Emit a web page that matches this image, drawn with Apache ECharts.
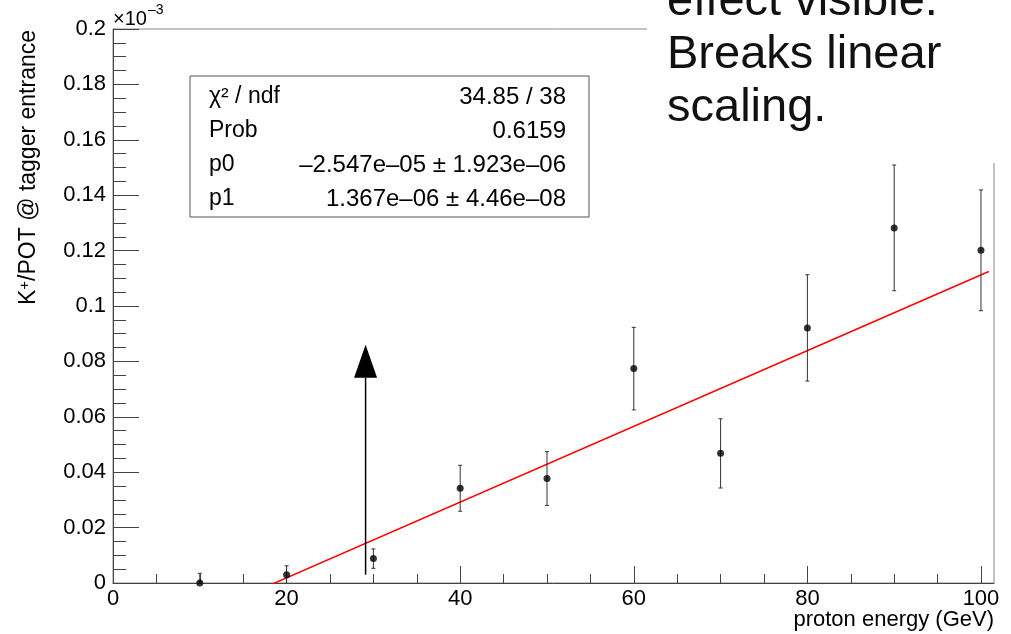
<!DOCTYPE html>
<html>
<head>
<meta charset="utf-8">
<script src="https://cdn.jsdelivr.net/npm/echarts@6/dist/echarts.min.js"></script>
<style>
  html, body { margin: 0; padding: 0; background: #fff; }
  #chart { width: 1011px; height: 634px; }
</style>
</head>
<body>
<div id="chart"></div>
<script>
// Proton beam energies (GeV)
const energies = [10, 20, 30, 40, 50, 60, 70, 80, 90, 100];
// K+/POT at the tagger entrance, in units of 1e-3
const kaonYield = [0.0, 0.0030, 0.0088, 0.0342, 0.0377, 0.0774, 0.0468, 0.0921, 0.1282, 0.1201];
const kaonYieldErr = [0.0035, 0.0032, 0.0035, 0.0083, 0.0097, 0.0149, 0.0125, 0.0192, 0.0227, 0.0218];

// pol1 fit result (absolute units): y = p0 + p1 * E
const fitP0 = -2.547e-05;
const fitP1 = 1.367e-06;
const fitRange = [0, 100.9];
const yUnit = 1e-3;

// Fit statistics box
const statsLabels = ['χ² / ndf', 'Prob', 'p0', 'p1'];
const statsValues = ['34.85 / 38', '0.6159', '–2.547e–05 ± 1.923e–06', '1.367e–06 ± 4.46e–08'];

// Axis ticks
const xMajorTicks = [0, 20, 40, 60, 80, 100];
const yMajorTicks = [0, 0.02, 0.04, 0.06, 0.08, 0.1, 0.12, 0.14, 0.16, 0.18, 0.2];

// Annotation arrow at E = 29 GeV (x, y start, y tip)
const arrowMark = [29.1, 0.003, 0.086];

// Note text in the upper right corner
const noteLines = ['effect visible.', 'Breaks linear', 'scaling.'];

const FONT = '"Liberation Sans", Arial, Helvetica, sans-serif';

const points = energies.map((e, i) => [e, kaonYield[i], kaonYieldErr[i]]);
const fitLine = fitRange.map(e => [e, (fitP0 + fitP1 * e) / yUnit]);

const chart = echarts.init(document.getElementById('chart'), null, { renderer: 'canvas' });

const statsBox = { x: 190, y: 76, w: 399, h: 141 };
const statsChildren = [{
  type: 'rect',
  shape: { x: statsBox.x, y: statsBox.y, width: statsBox.w, height: statsBox.h },
  style: { fill: '#fff', stroke: '#555', lineWidth: 1 }
}];
statsLabels.forEach((lab, i) => {
  const cy = 97 + i * 34;
  statsChildren.push({
    type: 'text', x: 209, y: cy,
    style: { text: lab, font: '23px ' + FONT, fill: '#000', textAlign: 'left', textVerticalAlign: 'middle' }
  });
  statsChildren.push({
    type: 'text', x: 566, y: cy,
    style: { text: statsValues[i], font: '24px ' + FONT, fill: '#000', textAlign: 'right', textVerticalAlign: 'middle' }
  });
});

const option = {
  backgroundColor: '#fff',
  animation: false,
  grid: {
    left: 113, right: 17, top: 29, bottom: 51,
    show: true, borderColor: '#888', borderWidth: 1, backgroundColor: 'transparent',
    containLabel: false, outerBoundsMode: 'none'
  },
  xAxis: {
    type: 'value', min: 0, max: 101.5,
    axisLine: { show: true, onZero: false, lineStyle: { color: '#444', width: 1 } },
    axisTick: { show: true, inside: true, length: 17, customValues: xMajorTicks, lineStyle: { color: '#444' } },
    minorTick: { show: true, splitNumber: 4, length: 9, lineStyle: { color: '#444' } },
    axisLabel: {
      show: true, customValues: xMajorTicks, margin: 5,
      color: '#000', fontSize: 22, fontFamily: FONT,
      formatter: v => String(v)
    },
    splitLine: { show: false },
    minorSplitLine: { show: false }
  },
  yAxis: {
    type: 'value', min: 0, max: 0.2, interval: 0.02,
    axisLine: { show: true, onZero: false, lineStyle: { color: '#444', width: 1 } },
    axisTick: { show: true, inside: true, length: 26, lineStyle: { color: '#444' } },
    minorTick: { show: true, splitNumber: 4, length: 13, lineStyle: { color: '#444' } },
    axisLabel: {
      show: true, margin: 7, color: '#000', fontSize: 22, fontFamily: FONT,
      customValues: yMajorTicks,
      formatter: v => String(+v.toFixed(3))
    },
    splitLine: { show: false },
    minorSplitLine: { show: false }
  },
  series: [
    {
      // linear fit
      type: 'line', data: fitLine, showSymbol: false, symbol: 'none', clip: true,
      lineStyle: { color: '#ff0000', width: 1.5 }, z: 3, silent: true
    },
    {
      // error bars
      type: 'custom', data: points, clip: true, z: 4, silent: true,
      renderItem: (params, api) => {
        const x = api.value(0), y = api.value(1), e = api.value(2);
        const top = api.coord([x, y + e]);
        const bot = api.coord([x, y - e]);
        const style = { stroke: '#333', lineWidth: 1 };
        return {
          type: 'group', children: [
            { type: 'line', shape: { x1: top[0], y1: top[1], x2: bot[0], y2: bot[1] }, style },
            { type: 'line', shape: { x1: top[0] - 2, y1: top[1], x2: top[0] + 2, y2: top[1] }, style },
            { type: 'line', shape: { x1: bot[0] - 2, y1: bot[1], x2: bot[0] + 2, y2: bot[1] }, style }
          ]
        };
      }
    },
    {
      // measured points
      type: 'scatter', data: points.map(p => [p[0], p[1]]), symbol: 'circle', symbolSize: 7,
      itemStyle: { color: '#000' }, z: 5, silent: true
    },
    {
      // arrow annotation
      type: 'custom', data: [arrowMark], clip: false, z: 6, silent: true,
      renderItem: (params, api) => {
        const x = api.value(0);
        const p0 = api.coord([x, api.value(1)]);
        const p1 = api.coord([x, api.value(2)]);
        const headH = 33, headW = 23;
        return {
          type: 'group', children: [
            { type: 'line', shape: { x1: p0[0], y1: p0[1], x2: p1[0], y2: p1[1] + headH }, style: { stroke: '#000', lineWidth: 1.5 } },
            { type: 'polygon', shape: { points: [[p1[0], p1[1]], [p1[0] - headW / 2, p1[1] + headH], [p1[0] + headW / 2, p1[1] + headH]] }, style: { fill: '#000' } }
          ]
        };
      }
    }
  ],
  graphic: [
    {
      type: 'text', x: 113, y: 19, z: 50,
      style: { text: '×10', font: '20px ' + FONT, fill: '#000', textAlign: 'left', textVerticalAlign: 'middle' }
    },
    {
      type: 'text', x: 148, y: 10, z: 50,
      style: { text: '–3', font: '14px ' + FONT, fill: '#000', textAlign: 'left', textVerticalAlign: 'middle' }
    },
    {
      type: 'text', x: 29, y: 30, rotation: Math.PI / 2, z: 50,
      style: {
        text: '{k|K}{s|+}{k|/POT @ tagger entrance}',
        textAlign: 'right', textVerticalAlign: 'middle',
        rich: {
          k: { font: '23px ' + FONT, fill: '#000' },
          s: { font: '15px ' + FONT, fill: '#000', padding: [0, 0, 9, 0] }
        }
      }
    },
    {
      type: 'text', x: 994, y: 620, z: 50,
      style: { text: 'proton energy (GeV)', font: '22px ' + FONT, fill: '#000', textAlign: 'right', textVerticalAlign: 'middle' }
    },
    { type: 'group', z: 60, children: statsChildren },
    {
      type: 'rect', z: 70,
      shape: { x: 647, y: 0, width: 364, height: 163 },
      style: { fill: '#fff' }
    },
    {
      type: 'text', x: 667, y: 55, z: 80,
      style: {
        text: noteLines.join('\n'), font: '47px ' + FONT, fill: '#111',
        lineHeight: 53, textAlign: 'left', textVerticalAlign: 'middle'
      }
    }
  ]
};

chart.setOption(option);
</script>
</body>
</html>
